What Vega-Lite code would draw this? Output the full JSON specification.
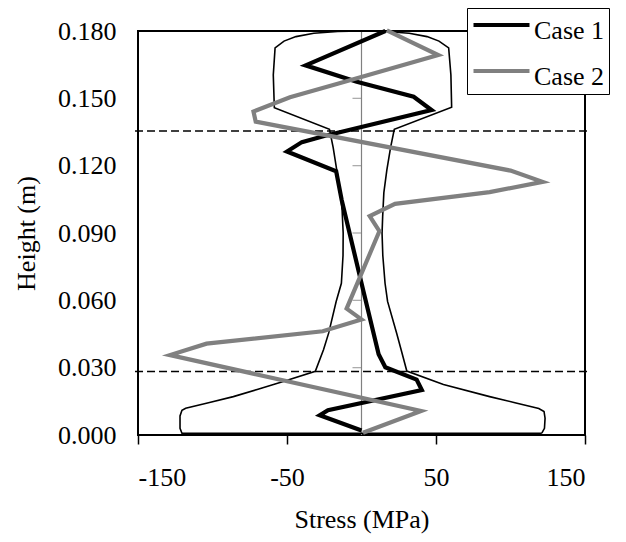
{
  "$schema": "https://vega.github.io/schema/vega-lite/v6.json",
  "width": 447,
  "height": 404,
  "autosize": "none",
  "padding": {"left": 138, "top": 31, "right": 41, "bottom": 107},
  "background": "white",
  "config": {
    "view": {"stroke": "black", "strokeWidth": 2},
    "font": "Liberation Serif"
  },
  "datasets": {
    "envelope": [
      {"o": 1, "x": 121, "y": 0.0008},
      {"o": 2, "x": 0, "y": 0.0008},
      {"o": 3, "x": -120.5, "y": 0.0008},
      {"o": 4, "x": -121.8, "y": 0.003},
      {"o": 5, "x": -121.8, "y": 0.0085},
      {"o": 6, "x": -120.5, "y": 0.011},
      {"o": 7, "x": -118, "y": 0.0119},
      {"o": 8, "x": -102, "y": 0.0145},
      {"o": 9, "x": -86, "y": 0.0171},
      {"o": 10, "x": -70, "y": 0.0203},
      {"o": 11, "x": -52.5, "y": 0.0238},
      {"o": 12, "x": -31, "y": 0.0284},
      {"o": 13, "x": -25.5, "y": 0.038},
      {"o": 14, "x": -22, "y": 0.0455},
      {"o": 15, "x": -17, "y": 0.0595},
      {"o": 16, "x": -13.5, "y": 0.0676},
      {"o": 17, "x": -12.4, "y": 0.080},
      {"o": 18, "x": -12.3, "y": 0.090},
      {"o": 19, "x": -13, "y": 0.100},
      {"o": 20, "x": -14.5, "y": 0.110},
      {"o": 21, "x": -16.6, "y": 0.118},
      {"o": 22, "x": -19, "y": 0.128},
      {"o": 23, "x": -21.5, "y": 0.1362},
      {"o": 24, "x": -58.5, "y": 0.1458},
      {"o": 25, "x": -59.2, "y": 0.1604},
      {"o": 26, "x": -58, "y": 0.1725},
      {"o": 27, "x": -52, "y": 0.1755},
      {"o": 28, "x": -44, "y": 0.1775},
      {"o": 29, "x": -32, "y": 0.179},
      {"o": 30, "x": -16, "y": 0.1798},
      {"o": 31, "x": 0, "y": 0.180},
      {"o": 32, "x": 16, "y": 0.1798},
      {"o": 33, "x": 32, "y": 0.179},
      {"o": 34, "x": 44, "y": 0.1775},
      {"o": 35, "x": 52, "y": 0.1755},
      {"o": 36, "x": 58.5, "y": 0.1725},
      {"o": 37, "x": 60, "y": 0.1604},
      {"o": 38, "x": 60.5, "y": 0.1460},
      {"o": 39, "x": 22, "y": 0.1362},
      {"o": 40, "x": 19.5, "y": 0.128},
      {"o": 41, "x": 17, "y": 0.118},
      {"o": 42, "x": 15, "y": 0.108},
      {"o": 43, "x": 14.2, "y": 0.0973},
      {"o": 44, "x": 13.8, "y": 0.0899},
      {"o": 45, "x": 14.3, "y": 0.080},
      {"o": 46, "x": 15.8, "y": 0.0676},
      {"o": 47, "x": 17.5, "y": 0.0595},
      {"o": 48, "x": 23.6, "y": 0.0453},
      {"o": 49, "x": 27, "y": 0.037},
      {"o": 50, "x": 30.4, "y": 0.0285},
      {"o": 51, "x": 55, "y": 0.0225},
      {"o": 52, "x": 86, "y": 0.0171},
      {"o": 53, "x": 103, "y": 0.0144},
      {"o": 54, "x": 119, "y": 0.0118},
      {"o": 55, "x": 122.5, "y": 0.0105},
      {"o": 56, "x": 123.2, "y": 0.0075},
      {"o": 57, "x": 122.8, "y": 0.003},
      {"o": 58, "x": 121, "y": 0.0008}
    ],
    "cases": [
      {"series": "Case 1", "o": 1, "x": 0, "y": 0.002},
      {"series": "Case 1", "o": 2, "x": -28, "y": 0.0088},
      {"series": "Case 1", "o": 3, "x": -22.5, "y": 0.0110},
      {"series": "Case 1", "o": 4, "x": 40.5, "y": 0.0200},
      {"series": "Case 1", "o": 5, "x": 37, "y": 0.0247},
      {"series": "Case 1", "o": 6, "x": 16, "y": 0.0302},
      {"series": "Case 1", "o": 7, "x": 11.5, "y": 0.0360},
      {"series": "Case 1", "o": 8, "x": 1.3, "y": 0.0640},
      {"series": "Case 1", "o": 9, "x": -13.3, "y": 0.1047},
      {"series": "Case 1", "o": 10, "x": -17, "y": 0.1175},
      {"series": "Case 1", "o": 11, "x": -50, "y": 0.1263},
      {"series": "Case 1", "o": 12, "x": -40, "y": 0.1305},
      {"series": "Case 1", "o": 13, "x": -25, "y": 0.1332},
      {"series": "Case 1", "o": 14, "x": 47, "y": 0.1448},
      {"series": "Case 1", "o": 15, "x": 35, "y": 0.1507},
      {"series": "Case 1", "o": 16, "x": -3.2, "y": 0.1574},
      {"series": "Case 1", "o": 17, "x": -37.5, "y": 0.1647},
      {"series": "Case 1", "o": 18, "x": 16, "y": 0.1800},
      {"series": "Case 2", "o": 1, "x": 1, "y": 0.001},
      {"series": "Case 2", "o": 2, "x": 40, "y": 0.0107},
      {"series": "Case 2", "o": 3, "x": -128.5, "y": 0.0356},
      {"series": "Case 2", "o": 4, "x": -104, "y": 0.0407},
      {"series": "Case 2", "o": 5, "x": -26, "y": 0.0462},
      {"series": "Case 2", "o": 6, "x": 0, "y": 0.0515},
      {"series": "Case 2", "o": 7, "x": -10, "y": 0.0563},
      {"series": "Case 2", "o": 8, "x": 12, "y": 0.0908},
      {"series": "Case 2", "o": 9, "x": 5.5, "y": 0.0975},
      {"series": "Case 2", "o": 10, "x": 22.5, "y": 0.1030},
      {"series": "Case 2", "o": 11, "x": 86, "y": 0.1082},
      {"series": "Case 2", "o": 12, "x": 121.5, "y": 0.1128},
      {"series": "Case 2", "o": 13, "x": 100, "y": 0.1178},
      {"series": "Case 2", "o": 14, "x": -71, "y": 0.1396},
      {"series": "Case 2", "o": 15, "x": -72.5, "y": 0.1441},
      {"series": "Case 2", "o": 16, "x": -48, "y": 0.1505},
      {"series": "Case 2", "o": 17, "x": -16, "y": 0.1565},
      {"series": "Case 2", "o": 18, "x": 51.5, "y": 0.1693},
      {"series": "Case 2", "o": 19, "x": 17, "y": 0.1803}
    ],
    "dashes": [
      {"x": -152, "x2": 152, "y": 0.1355},
      {"x": -152, "x2": 152, "y": 0.0283}
    ],
    "center": [
      {"x": 0, "y": 0, "y2": 0.18}
    ],
    "marks": [
      {"x": 0, "y": 0.03},
      {"x": 0, "y": 0.06},
      {"x": 0, "y": 0.09},
      {"x": 0, "y": 0.12},
      {"x": 0, "y": 0.15}
    ]
  },
  "encoding": {
    "x": {
      "type": "quantitative",
      "scale": {"domain": [-150, 150], "nice": false, "zero": false},
      "axis": {
        "title": "Stress (MPa)",
        "values": [-150, -50, 50, 150],
        "labelExpr": "datum.value < 0 ? '-' + abs(datum.value) : '' + datum.value",
        "grid": false,
        "domain": false,
        "ticks": true,
        "tickColor": "black",
        "tickWidth": 1.5,
        "tickSize": 9,
        "labelFont": "Liberation Serif",
        "labelFontSize": 26,
        "labelColor": "black",
        "labelPadding": 20,
        "titleFont": "Liberation Serif",
        "titleFontSize": 26,
        "titleFontWeight": "normal",
        "titleColor": "black",
        "titlePadding": 16
      }
    },
    "y": {
      "type": "quantitative",
      "scale": {"domain": [0, 0.18], "nice": false, "zero": false},
      "axis": {
        "title": "Height (m)",
        "values": [0, 0.03, 0.06, 0.09, 0.12, 0.15, 0.18],
        "format": ".3f",
        "grid": false,
        "domain": false,
        "ticks": false,
        "tickSize": 0,
        "labelFont": "Liberation Serif",
        "labelFontSize": 26,
        "labelColor": "black",
        "labelPadding": 22,
        "titleFont": "Liberation Serif",
        "titleFontSize": 26,
        "titleFontWeight": "normal",
        "titleColor": "black",
        "titlePadding": 18
      }
    }
  },
  "layer": [
    {
      "data": {"name": "center"},
      "mark": {"type": "rule", "color": "#808080", "strokeWidth": 1.2},
      "encoding": {
        "x": {"field": "x"},
        "y": {"field": "y"},
        "y2": {"field": "y2"}
      }
    },
    {
      "data": {"name": "marks"},
      "mark": {"type": "tick", "orient": "horizontal", "color": "#808080", "size": 9, "thickness": 1.2, "xOffset": -4.5},
      "encoding": {
        "x": {"field": "x"},
        "y": {"field": "y"}
      }
    },
    {
      "data": {"name": "dashes"},
      "mark": {"type": "rule", "color": "black", "strokeWidth": 1.5, "strokeDash": [8, 4]},
      "encoding": {
        "x": {"field": "x"},
        "x2": {"field": "x2"},
        "y": {"field": "y"}
      }
    },
    {
      "data": {"name": "envelope"},
      "mark": {"type": "line", "color": "black", "strokeWidth": 1.6},
      "encoding": {
        "x": {"field": "x"},
        "y": {"field": "y"},
        "order": {"field": "o", "type": "quantitative"}
      }
    },
    {
      "data": {"name": "cases"},
      "mark": {"type": "line", "strokeWidth": 4.2},
      "encoding": {
        "x": {"field": "x"},
        "y": {"field": "y"},
        "order": {"field": "o", "type": "quantitative"},
        "color": {
          "field": "series",
          "type": "nominal",
          "scale": {"domain": ["Case 1", "Case 2"], "range": ["black", "#808080"]},
          "legend": {
            "title": null,
            "orient": "none",
            "legendX": 329,
            "legendY": -23,
            "direction": "vertical",
            "symbolType": "stroke",
            "symbolSize": 3136,
            "symbolStrokeWidth": 4.2,
            "clipHeight": 26,
            "rowPadding": 14,
            "padding": 4,
            "labelOffset": 2,
            "labelFont": "Liberation Serif",
            "labelFontSize": 26,
            "labelColor": "black",
            "strokeColor": "black",
            "fillColor": "white",
            "cornerRadius": 0,
            "encode": {
              "labels": {"update": {"dy": {"value": 6}}}
            }
          }
        }
      }
    }
  ]
}
